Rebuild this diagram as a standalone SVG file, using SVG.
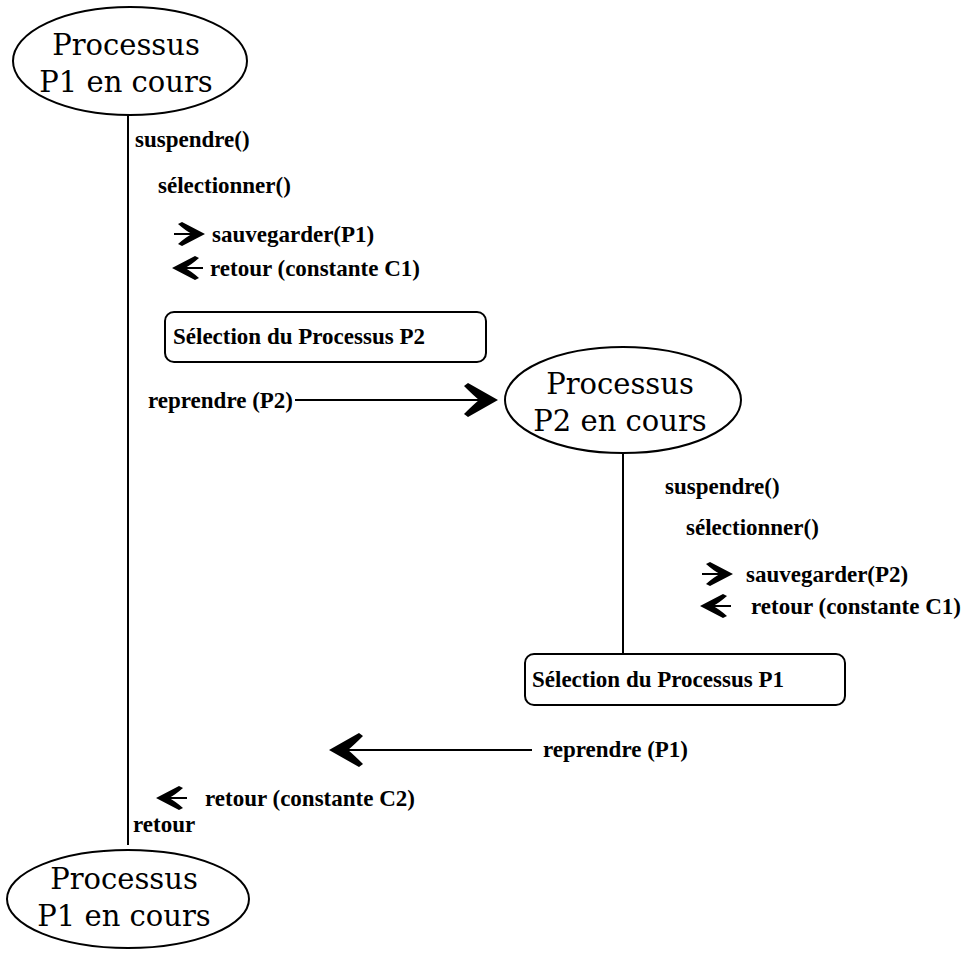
<svg xmlns="http://www.w3.org/2000/svg" width="967" height="954" viewBox="0 0 967 954">
<style>
.bg{fill:#ffffff}
.node{fill:none;stroke:#000;stroke-width:2}
.big{font-family:"DejaVu Serif","Liberation Serif",serif;font-size:29px;fill:#000;text-anchor:middle}
.lbl{font-family:"Liberation Serif","Times New Roman",serif;font-size:23px;font-weight:bold;fill:#000}
.ln{stroke:#000;stroke-width:2;fill:none}
.head{fill:#000;stroke:none}
</style>
<defs>
<path id="headB" d="M3,0 L-27,-17 L-31,-14 Q-22,-5 -16,0 Q-22,5 -31,14 L-27,17 Z"/>
<path id="headS" d="M2,0 L-21,-12 L-25,-10 Q-17,-3 -11,0 Q-17,3 -25,10 L-21,12 Z"/>
</defs>
<rect class="bg" x="0" y="0" width="967" height="954"/>

<g id="p1-top">
<ellipse class="node" cx="130" cy="61" rx="117" ry="54"/>
<text class="big" x="126" y="55">Processus</text>
<text class="big" x="126" y="92">P1 en cours</text>
</g>

<g id="sel-p2">
<rect class="node" x="165" y="312" width="321" height="50" rx="9"/>
<text class="lbl" x="173" y="344">Sélection du Processus P2</text>
</g>

<g id="p2">
<ellipse class="node" cx="623" cy="400" rx="118" ry="53"/>
<text class="big" x="620" y="394">Processus</text>
<text class="big" x="620" y="431">P2 en cours</text>
</g>

<g id="sel-p1">
<rect class="node" x="525" y="654" width="320" height="51" rx="9"/>
<text class="lbl" x="532" y="687">Sélection du Processus P1</text>
</g>

<g id="p1-bottom">
<ellipse class="node" cx="128" cy="899" rx="121" ry="49"/>
<text class="big" x="124" y="889">Processus</text>
<text class="big" x="124" y="926">P1 en cours</text>
</g>

<g id="connectors">
<line class="ln" x1="128" y1="115" x2="128" y2="845"/>
<line class="ln" x1="623" y1="453" x2="623" y2="654"/>
<line class="ln" x1="174" y1="234" x2="195" y2="234"/>
<use href="#headS" class="head" transform="translate(203,234)"/>
<line class="ln" x1="182" y1="268" x2="203" y2="268"/>
<use href="#headS" class="head" transform="translate(174,268) rotate(180)"/>
<line class="ln" x1="702" y1="574" x2="723" y2="574"/>
<use href="#headS" class="head" transform="translate(731,574)"/>
<line class="ln" x1="710" y1="606" x2="731" y2="606"/>
<use href="#headS" class="head" transform="translate(702,606) rotate(180)"/>
<line class="ln" x1="295" y1="400" x2="485" y2="400"/>
<use href="#headB" class="head" transform="translate(495,400)"/>
<line class="ln" x1="342" y1="750" x2="532" y2="750"/>
<use href="#headB" class="head" transform="translate(332,750) rotate(180)"/>
<line class="ln" x1="166" y1="798" x2="187" y2="798"/>
<use href="#headS" class="head" transform="translate(158,798) rotate(180)"/>
</g>

<g id="labels">
<text class="lbl" x="135" y="147">suspendre()</text>
<text class="lbl" x="158" y="193">sélectionner()</text>
<text class="lbl" x="212" y="242">sauvegarder(P1)</text>
<text class="lbl" x="210" y="276">retour (constante C1)</text>
<text class="lbl" x="148" y="408">reprendre (P2)</text>
<text class="lbl" x="665" y="494">suspendre()</text>
<text class="lbl" x="686" y="535">sélectionner()</text>
<text class="lbl" x="746" y="582">sauvegarder(P2)</text>
<text class="lbl" x="751" y="614">retour (constante C1)</text>
<text class="lbl" x="543" y="757">reprendre (P1)</text>
<text class="lbl" x="205" y="806">retour (constante C2)</text>
<text class="lbl" x="133" y="832">retour</text>
</g>
</svg>
